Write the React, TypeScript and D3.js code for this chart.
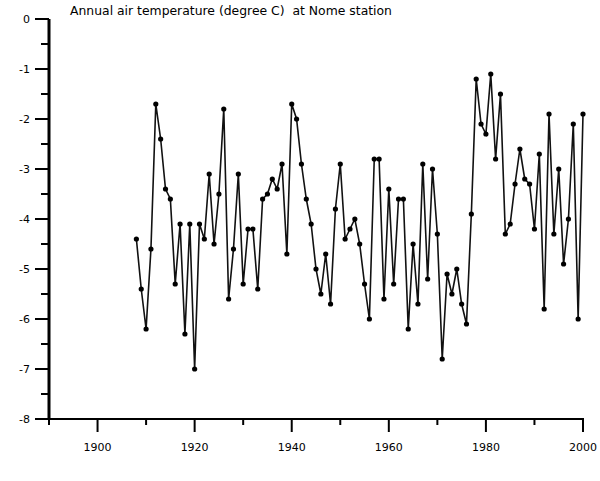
import React from 'react';
import * as d3 from 'd3';

// Annual air temperature at Nome, 1908-2000
const startYear = 1908;
const temps = [
  -4.4, -5.4, -6.2, -4.6, -1.7, -2.4, -3.4, -3.6, -5.3, -4.1,
  -6.3, -4.1, -7.0, -4.1, -4.4, -3.1, -4.5, -3.5, -1.8, -5.6,
  -4.6, -3.1, -5.3, -4.2, -4.2, -5.4, -3.6, -3.5, -3.2, -3.4,
  -2.9, -4.7, -1.7, -2.0, -2.9, -3.6, -4.1, -5.0, -5.5, -4.7,
  -5.7, -3.8, -2.9, -4.4, -4.2, -4.0, -4.5, -5.3, -6.0, -2.8,
  -2.8, -5.6, -3.4, -5.3, -3.6, -3.6, -6.2, -4.5, -5.7, -2.9,
  -5.2, -3.0, -4.3, -6.8, -5.1, -5.5, -5.0, -5.7, -6.1, -3.9,
  -1.2, -2.1, -2.3, -1.1, -2.8, -1.5, -4.3, -4.1, -3.3, -2.6,
  -3.2, -3.3, -4.2, -2.7, -5.8, -1.9, -4.3, -3.0, -4.9, -4.0,
  -2.1, -6.0, -1.9,
];
const years = temps.map((_, i) => startYear + i);
const xMajorTicks = [1900, 1920, 1940, 1960, 1980, 2000];
const xMinorTicks = [1890, 1910, 1930, 1950, 1970, 1990];
const yMajorTicks = [0, -1, -2, -3, -4, -5, -6, -7, -8];
const yMinorTicks = [-0.5, -1.5, -2.5, -3.5, -4.5, -5.5, -6.5, -7.5];

const W = 600;
const H = 481;
const font = '"DejaVu Sans", Verdana, sans-serif';

export default function App() {
  const x = d3.scaleLinear().domain([1890, 2000]).range([49, 583]);
  const y = d3.scaleLinear().domain([0, -8]).range([19, 419]);

  const pts = years.map((yr, i) => ({ yr, v: temps[i] }));
  const line = d3.line<{ yr: number; v: number }>()
    .x(d => x(d.yr))
    .y(d => y(d.v));

  return (
    <svg width={W} height={H} style={{ position: 'absolute', left: 0, top: 0, background: '#fff' }}>
      <text x={70} y={15} fontFamily={font} fontSize={12.4} fill="#000" style={{ whiteSpace: 'pre' }}>
        {'Annual air temperature (degree C)  at Nome station'}
      </text>

      {/* y axis */}
      <line x1={x(1890)} x2={x(1890)} y1={y(0)} y2={y(-8)} stroke="#000" strokeWidth={3} />
      {yMajorTicks.map(t => (
        <g key={'ym' + t}>
          <line x1={x(1890) - 14} x2={x(1890)} y1={y(t)} y2={y(t)} stroke="#000" strokeWidth={2} />
          <text x={30} y={y(t)} dy="0.35em" textAnchor="end" fontFamily={font} fontSize={11}>
            {t}
          </text>
        </g>
      ))}
      {yMinorTicks.map(t => (
        <line key={'yn' + t} x1={x(1890) - 8} x2={x(1890)} y1={y(t)} y2={y(t)} stroke="#000" strokeWidth={2} />
      ))}

      {/* x axis */}
      <line x1={x(1890)} x2={x(2000) + 1} y1={y(-8)} y2={y(-8)} stroke="#000" strokeWidth={2} />
      {xMajorTicks.map(t => (
        <g key={'xm' + t}>
          <line x1={x(t)} x2={x(t)} y1={y(-8)} y2={y(-8) + 13} stroke="#000" strokeWidth={2} />
          <text x={x(t)} y={451} textAnchor="middle" fontFamily={font} fontSize={11}>
            {t}
          </text>
        </g>
      ))}
      {xMinorTicks.map(t => (
        <line key={'xn' + t} x1={x(t)} x2={x(t)} y1={y(-8)} y2={y(-8) + 6} stroke="#000" strokeWidth={2} />
      ))}

      {/* series */}
      <path d={line(pts) || ''} fill="none" stroke="#111" strokeWidth={1.6} />
      {pts.map(p => (
        <circle key={p.yr} cx={x(p.yr)} cy={y(p.v)} r={2.6} fill="#000" />
      ))}
    </svg>
  );
}
